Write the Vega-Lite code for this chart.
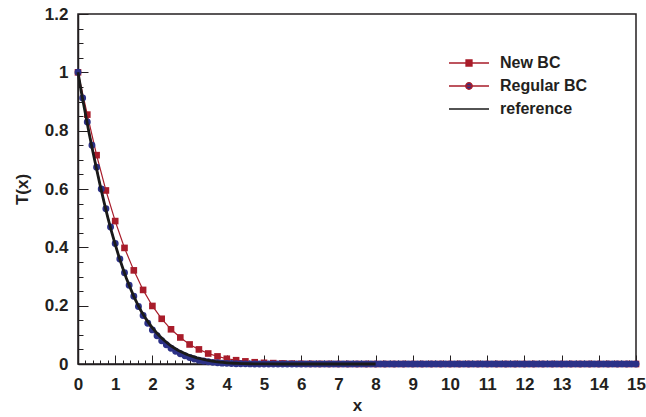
{
  "$schema": "https://vega.github.io/schema/vega-lite/v6.json",
  "width": 558,
  "height": 350,
  "autosize": {"type": "none"},
  "padding": {"left": 78, "top": 14, "right": 10, "bottom": 53},
  "config": {
    "view": {"stroke": "#231f20", "strokeWidth": 1.5},
    "font": "Liberation Sans"
  },
  "datasets": {
    "newbc": [
      {"x": 0, "y": 1}, {"x": 0.25, "y": 0.855}, {"x": 0.5, "y": 0.716}, {"x": 0.75, "y": 0.595},
      {"x": 1, "y": 0.49}, {"x": 1.25, "y": 0.398}, {"x": 1.5, "y": 0.321}, {"x": 1.75, "y": 0.254},
      {"x": 2, "y": 0.199}, {"x": 2.25, "y": 0.155}, {"x": 2.5, "y": 0.119}, {"x": 2.75, "y": 0.091},
      {"x": 3, "y": 0.067}, {"x": 3.25, "y": 0.05}, {"x": 3.5, "y": 0.036}, {"x": 3.75, "y": 0.026},
      {"x": 4, "y": 0.018}, {"x": 4.25, "y": 0.013}, {"x": 4.5, "y": 0.009}, {"x": 4.75, "y": 0.006},
      {"x": 5, "y": 0.004}, {"x": 5.25, "y": 0.003}, {"x": 5.5, "y": 0.002}, {"x": 5.75, "y": 0.0013},
      {"x": 6, "y": 0.0008}, {"x": 6.25, "y": 0.0005}, {"x": 6.5, "y": 0.0003}, {"x": 6.75, "y": 0.0002},
      {"x": 7, "y": 0.0001}, {"x": 7.25, "y": 0}, {"x": 7.5, "y": 0}, {"x": 7.75, "y": 0},
      {"x": 8, "y": 0}, {"x": 8.25, "y": 0}, {"x": 8.5, "y": 0}, {"x": 8.75, "y": 0},
      {"x": 9, "y": 0}, {"x": 9.25, "y": 0}, {"x": 9.5, "y": 0}, {"x": 9.75, "y": 0},
      {"x": 10, "y": 0}, {"x": 10.25, "y": 0}, {"x": 10.5, "y": 0}, {"x": 10.75, "y": 0},
      {"x": 11, "y": 0}, {"x": 11.25, "y": 0}, {"x": 11.5, "y": 0}, {"x": 11.75, "y": 0},
      {"x": 12, "y": 0}, {"x": 12.25, "y": 0}, {"x": 12.5, "y": 0}, {"x": 12.75, "y": 0},
      {"x": 13, "y": 0}, {"x": 13.25, "y": 0}, {"x": 13.5, "y": 0}, {"x": 13.75, "y": 0},
      {"x": 14, "y": 0}, {"x": 14.25, "y": 0}, {"x": 14.5, "y": 0}, {"x": 14.75, "y": 0},
      {"x": 15, "y": 0}
    ],
    "regbc": [
      {"x": 0, "y": 1}, {"x": 0.125, "y": 0.912}, {"x": 0.25, "y": 0.83}, {"x": 0.375, "y": 0.75},
      {"x": 0.5, "y": 0.675}, {"x": 0.625, "y": 0.6}, {"x": 0.75, "y": 0.532}, {"x": 0.875, "y": 0.47},
      {"x": 1, "y": 0.413}, {"x": 1.125, "y": 0.36}, {"x": 1.25, "y": 0.313}, {"x": 1.375, "y": 0.27},
      {"x": 1.5, "y": 0.232}, {"x": 1.625, "y": 0.197}, {"x": 1.75, "y": 0.166}, {"x": 1.875, "y": 0.14},
      {"x": 2, "y": 0.117}, {"x": 2.125, "y": 0.097}, {"x": 2.25, "y": 0.08}, {"x": 2.375, "y": 0.066},
      {"x": 2.5, "y": 0.054}, {"x": 2.625, "y": 0.044}, {"x": 2.75, "y": 0.035}, {"x": 2.875, "y": 0.028},
      {"x": 3, "y": 0.022}, {"x": 3.125, "y": 0.017}, {"x": 3.25, "y": 0.013}, {"x": 3.375, "y": 0.01},
      {"x": 3.5, "y": 0.0075}, {"x": 3.625, "y": 0.0056}, {"x": 3.75, "y": 0.0041}, {"x": 3.875, "y": 0.003},
      {"x": 4, "y": 0.0022}, {"x": 4.125, "y": 0.0016}, {"x": 4.25, "y": 0.0011}, {"x": 4.375, "y": 0.0008},
      {"x": 4.5, "y": 0.0005}, {"x": 4.625, "y": 0.0004}, {"x": 4.75, "y": 0.0003}, {"x": 4.875, "y": 0.0002},
      {"x": 5, "y": 0.0001}, {"x": 5.125, "y": 0}, {"x": 5.25, "y": 0}, {"x": 5.375, "y": 0},
      {"x": 5.5, "y": 0}, {"x": 5.625, "y": 0}, {"x": 5.75, "y": 0}, {"x": 5.875, "y": 0},
      {"x": 6, "y": 0}, {"x": 6.125, "y": 0}, {"x": 6.25, "y": 0}, {"x": 6.375, "y": 0},
      {"x": 6.5, "y": 0}, {"x": 6.625, "y": 0}, {"x": 6.75, "y": 0}, {"x": 6.875, "y": 0},
      {"x": 7, "y": 0}, {"x": 7.125, "y": 0}, {"x": 7.25, "y": 0}, {"x": 7.375, "y": 0},
      {"x": 7.5, "y": 0}, {"x": 7.625, "y": 0}, {"x": 7.75, "y": 0}, {"x": 7.875, "y": 0},
      {"x": 8, "y": 0}, {"x": 8.125, "y": 0}, {"x": 8.25, "y": 0}, {"x": 8.375, "y": 0},
      {"x": 8.5, "y": 0}, {"x": 8.625, "y": 0}, {"x": 8.75, "y": 0}, {"x": 8.875, "y": 0},
      {"x": 9, "y": 0}, {"x": 9.125, "y": 0}, {"x": 9.25, "y": 0}, {"x": 9.375, "y": 0},
      {"x": 9.5, "y": 0}, {"x": 9.625, "y": 0}, {"x": 9.75, "y": 0}, {"x": 9.875, "y": 0},
      {"x": 10, "y": 0}, {"x": 10.125, "y": 0}, {"x": 10.25, "y": 0}, {"x": 10.375, "y": 0},
      {"x": 10.5, "y": 0}, {"x": 10.625, "y": 0}, {"x": 10.75, "y": 0}, {"x": 10.875, "y": 0},
      {"x": 11, "y": 0}, {"x": 11.125, "y": 0}, {"x": 11.25, "y": 0}, {"x": 11.375, "y": 0},
      {"x": 11.5, "y": 0}, {"x": 11.625, "y": 0}, {"x": 11.75, "y": 0}, {"x": 11.875, "y": 0},
      {"x": 12, "y": 0}, {"x": 12.125, "y": 0}, {"x": 12.25, "y": 0}, {"x": 12.375, "y": 0},
      {"x": 12.5, "y": 0}, {"x": 12.625, "y": 0}, {"x": 12.75, "y": 0}, {"x": 12.875, "y": 0},
      {"x": 13, "y": 0}, {"x": 13.125, "y": 0}, {"x": 13.25, "y": 0}, {"x": 13.375, "y": 0},
      {"x": 13.5, "y": 0}, {"x": 13.625, "y": 0}, {"x": 13.75, "y": 0}, {"x": 13.875, "y": 0},
      {"x": 14, "y": 0}, {"x": 14.125, "y": 0}, {"x": 14.25, "y": 0}, {"x": 14.375, "y": 0},
      {"x": 14.5, "y": 0}, {"x": 14.625, "y": 0}, {"x": 14.75, "y": 0}, {"x": 14.875, "y": 0},
      {"x": 15, "y": 0}
    ],
    "reference": [
      {"x": 0, "y": 1}, {"x": 0.1, "y": 0.925}, {"x": 0.2, "y": 0.858}, {"x": 0.3, "y": 0.79},
      {"x": 0.4, "y": 0.728}, {"x": 0.5, "y": 0.668}, {"x": 0.6, "y": 0.61}, {"x": 0.7, "y": 0.555},
      {"x": 0.8, "y": 0.503}, {"x": 0.9, "y": 0.455}, {"x": 1, "y": 0.41}, {"x": 1.1, "y": 0.368},
      {"x": 1.2, "y": 0.33}, {"x": 1.3, "y": 0.294}, {"x": 1.4, "y": 0.262}, {"x": 1.5, "y": 0.232},
      {"x": 1.6, "y": 0.205}, {"x": 1.7, "y": 0.181}, {"x": 1.8, "y": 0.16}, {"x": 1.9, "y": 0.141},
      {"x": 2, "y": 0.124}, {"x": 2.1, "y": 0.109}, {"x": 2.2, "y": 0.095}, {"x": 2.3, "y": 0.083},
      {"x": 2.4, "y": 0.072}, {"x": 2.5, "y": 0.062}, {"x": 2.6, "y": 0.054}, {"x": 2.7, "y": 0.046},
      {"x": 2.8, "y": 0.04}, {"x": 2.9, "y": 0.034}, {"x": 3, "y": 0.029}, {"x": 3.1, "y": 0.025},
      {"x": 3.2, "y": 0.021}, {"x": 3.3, "y": 0.018}, {"x": 3.4, "y": 0.015}, {"x": 3.5, "y": 0.012},
      {"x": 3.6, "y": 0.01}, {"x": 3.7, "y": 0.008}, {"x": 3.8, "y": 0.0066}, {"x": 3.9, "y": 0.0053},
      {"x": 4, "y": 0.0042}, {"x": 4.1, "y": 0.0033}, {"x": 4.2, "y": 0.0026}, {"x": 4.3, "y": 0.002},
      {"x": 4.4, "y": 0.0015}, {"x": 4.5, "y": 0.0011}, {"x": 4.6, "y": 0.0008}, {"x": 4.7, "y": 0.0006},
      {"x": 4.8, "y": 0.0004}, {"x": 4.9, "y": 0.0003}, {"x": 5, "y": 0.0002}, {"x": 5.5, "y": 0},
      {"x": 6, "y": 0}, {"x": 6.5, "y": 0}, {"x": 7, "y": 0}, {"x": 7.5, "y": 0}, {"x": 8, "y": 0}
    ],
    "series": [
      {"series": "New BC"}, {"series": "Regular BC"}, {"series": "reference"}
    ]
  },
  "resolve": {"axis": {"x": "independent", "y": "independent"}},
  "layer": [
    {
      "data": {"name": "newbc"},
      "mark": {"type": "line", "color": "#a81c2a", "strokeWidth": 1.2},
      "encoding": {
        "x": {
          "field": "x", "type": "quantitative",
          "scale": {"domain": [0, 15], "nice": false},
          "axis": {
            "orient": "bottom",
            "values": [0, 1, 2, 3, 4, 5, 6, 7, 8, 9, 10, 11, 12, 13, 14, 15],
            "format": "d", "grid": false,
            "tickSize": -9, "tickWidth": 1, "tickColor": "#231f20",
            "domainColor": "#231f20", "domainWidth": 1.5,
            "labelFont": "Liberation Sans", "labelFontSize": 17, "labelFontWeight": "bold",
            "labelColor": "#231f20", "labelPadding": 21, "labelFlush": false, "labelOverlap": false,
            "labelBound": false,
            "title": "x", "titleFont": "Liberation Sans", "titleFontSize": 17,
            "titleFontWeight": "bold", "titleColor": "#231f20", "titlePadding": 5
          }
        },
        "y": {
          "field": "y", "type": "quantitative",
          "scale": {"domain": [0, 1.2], "nice": false},
          "axis": {
            "orient": "left",
            "values": [0, 0.2, 0.4, 0.6, 0.8, 1, 1.2],
            "format": "~g", "grid": false,
            "tickSize": -10, "tickWidth": 1, "tickColor": "#231f20",
            "domainColor": "#231f20", "domainWidth": 1.5,
            "labelFont": "Liberation Sans", "labelFontSize": 17, "labelFontWeight": "bold",
            "labelColor": "#231f20", "labelPadding": 20, "labelFlush": false, "labelOverlap": false,
            "title": "T(x)", "titleFont": "Liberation Sans", "titleFontSize": 17,
            "titleFontWeight": "bold", "titleColor": "#231f20", "titlePadding": 13
          }
        }
      }
    },
    {
      "data": {"name": "newbc"},
      "mark": {"type": "point", "shape": "square", "filled": true, "color": "#a81c2a", "size": 44, "opacity": 1},
      "encoding": {
        "x": {
          "field": "x", "type": "quantitative",
          "axis": {
            "orient": "bottom", "tickCount": 75, "labels": false, "domain": false, "grid": false,
            "tickSize": -4, "tickWidth": 1, "tickColor": "#231f20", "title": null
          }
        },
        "y": {
          "field": "y", "type": "quantitative",
          "axis": {
            "orient": "left", "tickCount": 24, "labels": false, "domain": false, "grid": false,
            "tickSize": -5, "tickWidth": 1, "tickColor": "#231f20", "title": null
          }
        }
      }
    },
    {
      "data": {"name": "regbc"},
      "mark": {"type": "line", "color": "#a81c2a", "strokeWidth": 1.2},
      "encoding": {
        "x": {"field": "x", "type": "quantitative", "axis": null},
        "y": {"field": "y", "type": "quantitative", "axis": null}
      }
    },
    {
      "data": {"name": "regbc"},
      "mark": {"type": "point", "shape": "circle", "filled": true, "color": "#2c3187", "size": 48, "opacity": 1},
      "encoding": {
        "x": {"field": "x", "type": "quantitative", "axis": null},
        "y": {"field": "y", "type": "quantitative", "axis": null}
      }
    },
    {
      "data": {"name": "reference"},
      "mark": {"type": "line", "color": "#1a1a1a", "strokeWidth": 2.8},
      "encoding": {
        "x": {"field": "x", "type": "quantitative", "axis": null},
        "y": {"field": "y", "type": "quantitative", "axis": null}
      }
    },
    {
      "data": {"name": "series"},
      "transform": [{"filter": "false"}],
      "mark": {"type": "point", "filled": true, "size": 121, "strokeWidth": 1.3, "opacity": 1},
      "encoding": {
        "fill": {
          "field": "series", "type": "nominal",
          "scale": {"domain": ["New BC", "Regular BC", "reference"], "range": ["#a81c2a", "#2c3187", "transparent"]},
          "legend": {
            "title": null, "orient": "none", "legendX": 383, "legendY": 41, "padding": 0,
            "labelFont": "Liberation Sans", "labelFontSize": 16, "labelFontWeight": "bold",
            "labelColor": "#231f20", "labelOffset": 23, "rowPadding": 7, "symbolStrokeWidth": 1.3
          }
        },
        "stroke": {
          "field": "series", "type": "nominal",
          "scale": {"domain": ["New BC", "Regular BC", "reference"], "range": ["#a81c2a", "#a81c2a", "#1a1a1a"]},
          "legend": {
            "title": null, "orient": "none", "legendX": 383, "legendY": 41, "padding": 0,
            "labelFont": "Liberation Sans", "labelFontSize": 16, "labelFontWeight": "bold",
            "labelColor": "#231f20", "labelOffset": 23, "rowPadding": 7, "symbolStrokeWidth": 1.3
          }
        },
        "shape": {
          "field": "series", "type": "nominal",
          "scale": {
            "domain": ["New BC", "Regular BC", "reference"],
            "range": [
              "M-4,0H4M-0.6,-0.6H0.6V0.6H-0.6Z",
              "M-4,0H4M0.65,0A0.65,0.65,0,1,1,-0.65,0A0.65,0.65,0,1,1,0.65,0Z",
              "M-4,0H4"
            ]
          },
          "legend": {
            "title": null, "orient": "none", "legendX": 383, "legendY": 41, "padding": 0,
            "labelFont": "Liberation Sans", "labelFontSize": 16, "labelFontWeight": "bold",
            "labelColor": "#231f20", "labelOffset": 23, "rowPadding": 7, "symbolStrokeWidth": 1.3
          }
        }
      }
    }
  ]
}
